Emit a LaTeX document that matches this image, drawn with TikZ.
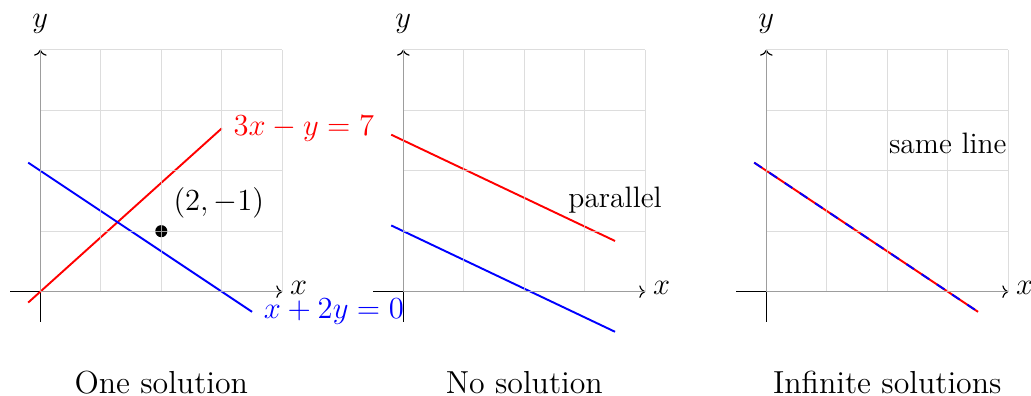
\documentclass[tikz,border=0pt]{standalone}
\usetikzlibrary{arrows.meta}
\begin{document}
\begin{tikzpicture}[
  axisline/.style={draw=black, line width=0.55pt, ->},
  gridline/.style={draw=gray!35, draw opacity=0.75, line width=0.45pt},
  redline/.style={draw=red, line width=0.9pt},
  blueline/.style={draw=blue, line width=0.9pt},
  bluedash/.style={draw=blue, line width=0.9pt, dash pattern=on 4.3pt off 4.3pt},
  axlabel/.style={font=\Large, inner sep=0pt},
  eqlabel/.style={font=\Large, right, xshift=0.07cm},
  note/.style={font=\fontsize{13.9}{15}\selectfont, inner sep=0pt},
  caption/.style={font=\fontsize{14.99}{15}\selectfont, inner sep=0pt},
  soldot/.style={circle, fill=black, inner sep=0pt, minimum size=0.2cm}
]
\useasboundingbox (-0.666,-1.724) rectangle (16.375,4.821);

% ---------- Panel 1 ----------
\begin{scope}
  \coordinate (a1xl) at (-0.5,0); \coordinate (a1xr) at (4,0);
  \coordinate (a1yb) at (0,-0.5); \coordinate (a1yt) at (0,4);
  \draw[axisline] (a1xl) -- (a1xr);
  \draw[axisline] (a1yb) -- (a1yt);
  \coordinate (r1s) at (-0.2,-0.18); \coordinate (r1e) at (3,2.7);
  \coordinate (b1s) at (-0.2,2.133); \coordinate (b1e) at (3.5,-0.333);
  \draw[redline] (r1s) -- (r1e);
  \draw[blueline] (b1s) -- (b1e);
  \node[soldot] (sol) at (2,1) {};
  \draw[gridline] (0,0) grid (4,4);
  \node[eqlabel, text=red] (r1lab) at (r1e) {$3x-y=7$};
  \node[eqlabel, text=blue] (b1lab) at (b1e) {$x+2y=0$};
  \node[note] (sollab) at (2.95,1.47) {$(2,-1)$};
  \node[axlabel] (x1lab) at (4.27,0.06) {$x$};
  \node[axlabel] (y1lab) at (0,4.42) {$y$};
  \node[caption] (cap1) at (2,-1.5) {One solution};
\end{scope}

% ---------- Panel 2 ----------
\begin{scope}[xshift=6cm]
  \coordinate (a2xl) at (-0.5,0); \coordinate (a2xr) at (4,0);
  \coordinate (a2yb) at (0,-0.5); \coordinate (a2yt) at (0,4);
  \draw[axisline] (a2xl) -- (a2xr);
  \draw[axisline] (a2yb) -- (a2yt);
  \coordinate (r2s) at (-0.2,2.595); \coordinate (r2e) at (3.5,0.838);
  \coordinate (b2s) at (-0.2,1.095); \coordinate (b2e) at (3.5,-0.663);
  \draw[redline] (r2s) -- (r2e);
  \draw[blueline] (b2s) -- (b2e);
  \draw[gridline] (0,0) grid (4,4);
  \node[note] (parlab) at (3.5,1.51) {parallel};
  \node[axlabel] (x2lab) at (4.27,0.06) {$x$};
  \node[axlabel] (y2lab) at (0,4.42) {$y$};
  \node[caption] (cap2) at (2,-1.5) {No solution};
\end{scope}

% ---------- Panel 3 ----------
\begin{scope}[xshift=12cm]
  \coordinate (a3xl) at (-0.5,0); \coordinate (a3xr) at (4,0);
  \coordinate (a3yb) at (0,-0.5); \coordinate (a3yt) at (0,4);
  \draw[axisline] (a3xl) -- (a3xr);
  \draw[axisline] (a3yb) -- (a3yt);
  \coordinate (l3s) at (-0.2,2.133); \coordinate (l3e) at (3.5,-0.333);
  \draw[redline] (l3s) -- (l3e);
  \draw[bluedash] (l3s) -- (l3e);
  \draw[gridline] (0,0) grid (4,4);
  \node[note] (samelab) at (3,2.45) {same line};
  \node[axlabel] (x3lab) at (4.27,0.06) {$x$};
  \node[axlabel] (y3lab) at (0,4.42) {$y$};
  \node[caption] (cap3) at (2,-1.5) {Infinite solutions};
\end{scope}
\end{tikzpicture}
\end{document}
